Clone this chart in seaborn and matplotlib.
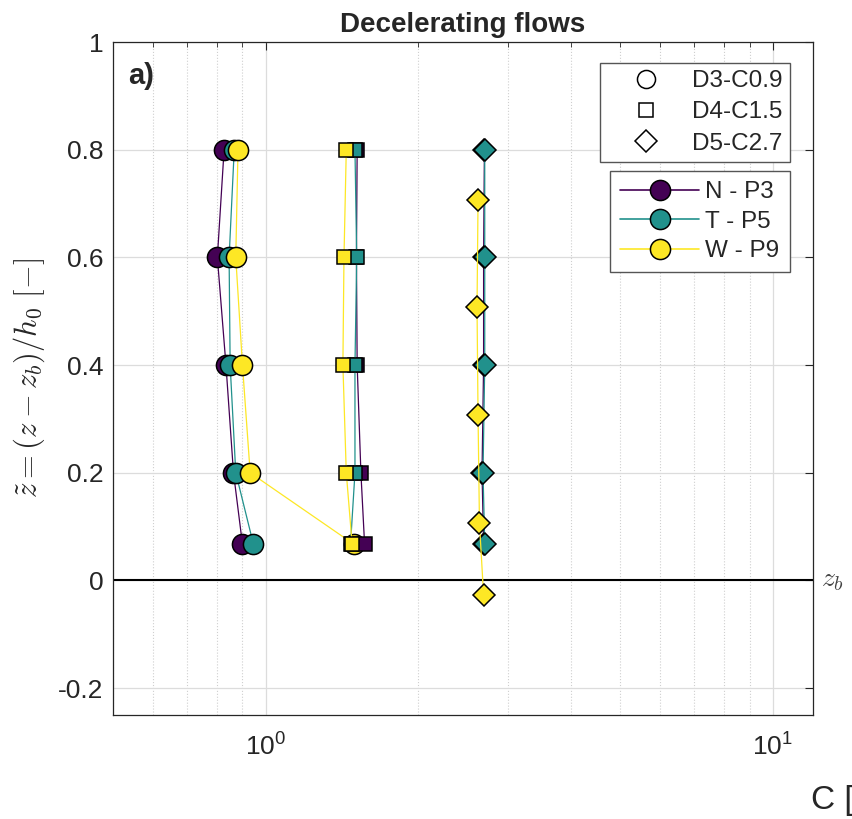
import numpy as np
import pandas as pd
import matplotlib
matplotlib.use("Agg")
import matplotlib.pyplot as plt
import matplotlib.transforms as mtransforms
from matplotlib.lines import Line2D
from matplotlib.ticker import LogLocator, NullFormatter
import seaborn as sns

# ---------------- data ----------------
z_levels = [0.8, 0.6, 0.4, 0.2, 0.067]

# D3-C0.9 (circles)
d3_N = [0.828, 0.803, 0.835, 0.864, 0.900]
d3_T = [0.867, 0.847, 0.851, 0.873, 0.946]
d3_W = [0.882, 0.873, 0.900, 0.932, 1.493]

# D4-C1.5 (squares)
d4_N = [1.515, 1.510, 1.515, 1.541, 1.567]
d4_T = [1.500, 1.512, 1.500, 1.500, 1.470]
d4_W = [1.442, 1.427, 1.420, 1.442, 1.481]

# D5-C2.7 (diamonds)
d5_N = [2.700, 2.690, 2.690, 2.671, 2.690]
d5_T = [2.704, 2.704, 2.704, 2.683, 2.704]
d5_W = [2.623, 2.611, 2.623, 2.640, 2.690]
d5_W_z = [0.707, 0.507, 0.307, 0.106, -0.027]

series_names = ["N - P3", "T - P5", "W - P9"]
shape_names = ["D3-C0.9", "D4-C1.5", "D5-C2.7"]
y_ticks = [-0.2, 0, 0.2, 0.4, 0.6, 0.8, 1]
y_tick_labels = ["-0.2", "0", "0.2", "0.4", "0.6", "0.8", "1"]

# ---------------- table ----------------
rows = []
def add(shape, series, cs, zs):
    for i, (c, z) in enumerate(zip(cs, zs)):
        rows.append(dict(shape=shape, series=series, C=c, z=z, idx=i))

add(shape_names[0], series_names[0], d3_N, z_levels)
add(shape_names[0], series_names[1], d3_T, z_levels)
add(shape_names[0], series_names[2], d3_W, z_levels)
add(shape_names[1], series_names[0], d4_N, z_levels)
add(shape_names[1], series_names[1], d4_T, z_levels)
add(shape_names[1], series_names[2], d4_W, z_levels)
add(shape_names[2], series_names[0], d5_N, z_levels)
add(shape_names[2], series_names[1], d5_T, z_levels)
add(shape_names[2], series_names[2], d5_W, d5_W_z)
df = pd.DataFrame(rows)

# ---------------- style ----------------
sns.set_theme(style="white")
plt.rcParams["font.family"] = ["Liberation Sans", "DejaVu Sans"]
plt.rcParams["mathtext.fontset"] = "cm"

colors = {series_names[0]: "#440154", series_names[1]: "#21918c", series_names[2]: "#fde725"}
markers = {shape_names[0]: "o", shape_names[1]: "s", shape_names[2]: "D"}
msizes = {shape_names[0]: 14.5, shape_names[1]: 10.5, shape_names[2]: 11}

fig = plt.figure(figsize=(8.53, 8.19), dpi=100)
ax = fig.add_axes([0.1325, 0.127, 0.8205, 0.8217])

zo = 3
for shp in shape_names:
    for ser in series_names:
        sub = df[(df["shape"] == shp) & (df["series"] == ser)].sort_values("idx")
        sns.lineplot(data=sub, x="C", y="z", sort=False, estimator=None, ax=ax,
                     color=colors[ser], marker=markers[shp], markersize=msizes[shp],
                     markeredgecolor="black", markeredgewidth=1.1, linewidth=0.9,
                     legend=False, zorder=zo)
        zo += 1

ax.axhline(0, color="black", linewidth=1.5, zorder=2)

ax.set_xscale("log")
ax.set_xlim(0.5, 12)
ax.set_ylim(-0.25, 1.0)
ax.set_yticks(y_ticks)
ax.set_yticklabels(y_tick_labels)
ax.xaxis.set_minor_locator(LogLocator(base=10, subs=np.arange(2, 10)))
ax.xaxis.set_minor_formatter(NullFormatter())

ax.grid(True, which="major", axis="both", color="#dcdcdc", linewidth=0.9, linestyle="-")
ax.grid(True, which="minor", axis="x", color="#cfcfcf", linewidth=0.8, linestyle=":")
ax.set_axisbelow(True)

ax.tick_params(which="both", direction="in", top=True, right=True, colors="#262626",
               labelsize=19, labelcolor="#262626")
ax.tick_params(which="major", length=6, width=0.8)
ax.tick_params(which="minor", length=3.5, width=0.6)
ax.tick_params(axis="y", which="major", pad=7)
ax.tick_params(axis="x", which="major", pad=13)
for s in ax.spines.values():
    s.set_color("#262626")
    s.set_linewidth(0.9)

ax.set_xlabel("")
ax.set_ylabel(r"$\tilde{z}=(z-z_b)/h_0\ [-]$", fontsize=22, color="#262626", labelpad=8)
ax.set_title("Decelerating flows", fontsize=20, fontweight="bold", pad=7)
ax.text(0.022, 0.95, "a)", transform=ax.transAxes, fontsize=21, fontweight="bold",
        va="center", ha="left")

trans = mtransforms.blended_transform_factory(ax.transAxes, ax.transData)
ax.text(1.012, 0, r"$z_b$", transform=trans, fontsize=20, color="#444444",
        va="center", ha="left", clip_on=False)
fig.text(811 / 853, 1 - 800 / 819, "C [-]", fontsize=24, color="#262626", va="center", ha="left")

# legends
h1 = [Line2D([], [], marker=markers[s], linestyle="none", markerfacecolor="white",
             markeredgecolor="black", markersize=ms, markeredgewidth=1.1)
      for s, ms in zip(shape_names, [13, 10, 11])]
leg1 = ax.legend(h1, shape_names, loc="upper right", bbox_to_anchor=(0.967, 0.969),
                 borderaxespad=0, fancybox=False, edgecolor="#555555", fontsize=17.5,
                 handlelength=3.2, handletextpad=0.3, labelspacing=0.38, borderpad=0.3,
                 framealpha=1)
leg1.get_frame().set_linewidth(1.0)
ax.add_artist(leg1)

h2 = [Line2D([], [], marker="o", color=colors[s], markerfacecolor=colors[s],
             markeredgecolor="black", markersize=14.5, markeredgewidth=1.1, linewidth=1.2)
      for s in series_names]
leg2 = ax.legend(h2, series_names, loc="upper right", bbox_to_anchor=(0.967, 0.808),
                 borderaxespad=0, fancybox=False, edgecolor="#555555", fontsize=17.5,
                 handlelength=3.25, handletextpad=0.25, labelspacing=0.3, borderpad=0.42,
                 framealpha=1)
leg2.get_frame().set_linewidth(1.0)

fig.savefig("out.png", dpi=100)
